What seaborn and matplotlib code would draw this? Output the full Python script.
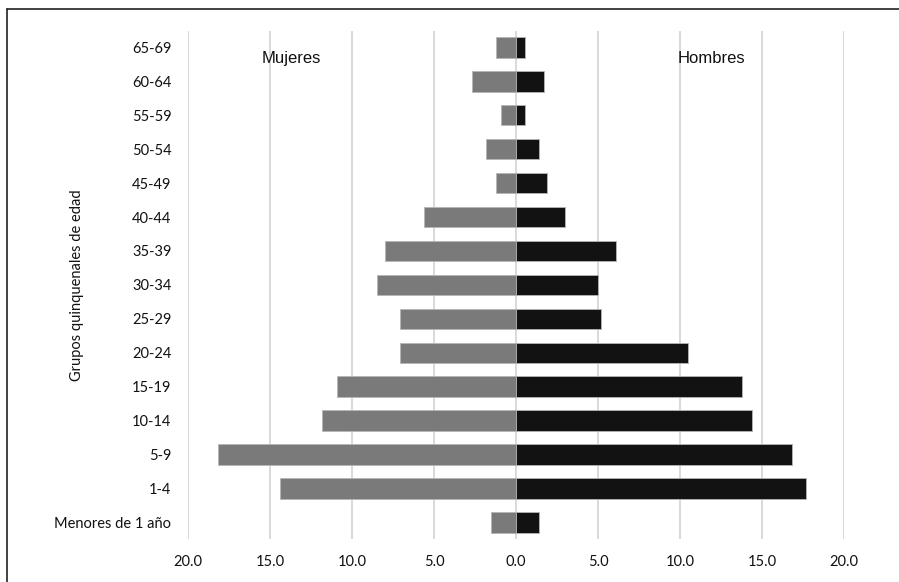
import numpy as np
import pandas as pd
import matplotlib
matplotlib.use('Agg')
import matplotlib.pyplot as plt
from matplotlib.lines import Line2D
import seaborn as sns

sns.set_style('white')
plt.rcParams['font.family'] = ['Lato', 'DejaVu Sans']

# Age groups, from top to bottom
grupos = ['65-69', '60-64', '55-59', '50-54', '45-49', '40-44', '35-39',
          '30-34', '25-29', '20-24', '15-19', '10-14', '5-9', '1-4',
          'Menores de 1 año']
# Percent of population by sex
mujeres = [1.2, 2.7, 0.9, 1.8, 1.2, 5.6, 8.0, 8.5, 7.1, 7.1, 10.9, 11.8, 18.2, 14.4, 1.5]
hombres = [0.55, 1.7, 0.55, 1.4, 1.9, 3.0, 6.1, 5.0, 5.2, 10.5, 13.8, 14.4, 16.8, 17.7, 1.4]
ticks = [-20, -15, -10, -5, 0, 5, 10, 15, 20]

df = pd.DataFrame({
    'grupo': grupos * 2,
    'valor': [-v for v in mujeres] + hombres,
    'sexo': ['Mujeres'] * len(grupos) + ['Hombres'] * len(grupos),
})

fig = plt.figure(figsize=(8.99, 5.82), dpi=100)
ax = fig.add_axes([188 / 899, 1 - 539.3 / 582, (844 - 188) / 899, (539.3 - 30.5) / 582])

sns.barplot(data=df, x='valor', y='grupo', hue='sexo', order=grupos,
            palette={'Mujeres': '#7a7a7a', 'Hombres': '#121212'},
            dodge=False, width=0.6, orient='h', edgecolor='#b5b5b5',
            linewidth=0.6, ax=ax, legend=False, zorder=3)

ax.set_xlim(-20, 20)
ax.set_xticks(ticks)
ax.set_xticklabels([f'{abs(t):.1f}' for t in ticks])
ax.grid(axis='x', color='#d9d9d9', linewidth=1.4, zorder=0)
ax.set_axisbelow(True)
for s in ax.spines.values():
    s.set_visible(False)
ax.tick_params(axis='both', length=0, labelsize=10.5, colors='#111111')
ax.tick_params(axis='x', pad=11)
ax.tick_params(axis='y', pad=12)
ax.set_xlabel('')
ax.set_ylabel('Grupos quinquenales de edad', fontsize=10.5, color='#111111', labelpad=0)
ax.yaxis.set_label_coords(-0.158, 0.5)

ax.text(-13.7, 0.32, 'Mujeres', fontfamily='Liberation Sans',
        fontsize=12, ha='center', va='center', color='#111111')
ax.text(11.9, 0.32, 'Hombres', fontfamily='Liberation Sans',
        fontsize=12, ha='center', va='center', color='#111111')

# partial frame around the figure (top and left edges)
fig.add_artist(Line2D([7 / 899, 1], [1 - 9 / 582, 1 - 9 / 582], color='#222222', linewidth=1.2))
fig.add_artist(Line2D([7 / 899, 7 / 899], [0, 1 - 9 / 582], color='#222222', linewidth=1.2))

fig.savefig('out.png', dpi=100)
